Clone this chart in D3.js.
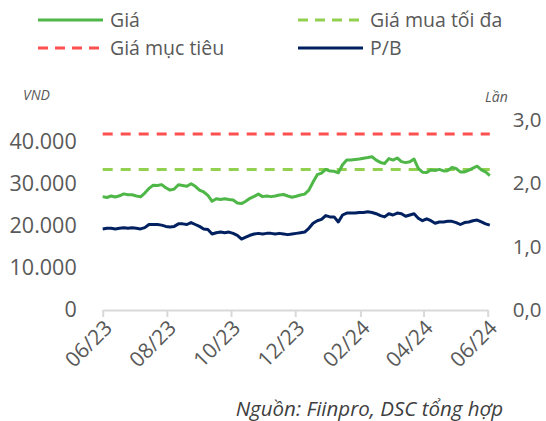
<!DOCTYPE html>
<html>
<head>
<meta charset="utf-8">
<script src="https://cdn.jsdelivr.net/npm/d3@7/dist/d3.min.js"></script>
<style>
  html, body { margin: 0; padding: 0; background: #fff; }
  svg { display: block; font-family: "Open Sans", "Noto Sans", sans-serif; }
</style>
</head>
<body>
<svg id="chart" width="546" height="421"></svg>
<script>
// ---- Data ----
const dates = [
  "2023-06-01","2023-06-05","2023-06-09","2023-06-13","2023-06-17","2023-06-21","2023-06-25","2023-06-29",
  "2023-07-03","2023-07-07","2023-07-11","2023-07-15","2023-07-19","2023-07-23","2023-07-27","2023-07-31",
  "2023-08-04","2023-08-08","2023-08-12","2023-08-16","2023-08-20","2023-08-24","2023-08-28","2023-09-01",
  "2023-09-05","2023-09-09","2023-09-13","2023-09-17","2023-09-21","2023-09-25","2023-09-29","2023-10-03",
  "2023-10-07","2023-10-11","2023-10-15","2023-10-19","2023-10-23","2023-10-27","2023-10-31","2023-11-04",
  "2023-11-08","2023-11-12","2023-11-16","2023-11-20","2023-11-24","2023-11-28","2023-12-02","2023-12-06",
  "2023-12-10","2023-12-14","2023-12-18","2023-12-22","2023-12-26","2023-12-30","2024-01-03","2024-01-07",
  "2024-01-11","2024-01-15","2024-01-19","2024-01-23","2024-01-27","2024-01-31","2024-02-04","2024-02-08",
  "2024-02-12","2024-02-16","2024-02-20","2024-02-24","2024-02-28","2024-03-03","2024-03-07","2024-03-11",
  "2024-03-15","2024-03-19","2024-03-23","2024-03-27","2024-03-31","2024-04-04","2024-04-08","2024-04-12",
  "2024-04-16","2024-04-20","2024-04-24","2024-04-28","2024-05-02","2024-05-06","2024-05-10","2024-05-14",
  "2024-05-18","2024-05-22","2024-05-26","2024-05-30","2024-06-03"
];
const price = [
  26850,26650,27000,26750,27050,27500,27300,27300,
  27000,26800,27700,28800,29550,29500,29700,28950,
  28400,28650,29650,29500,29300,29900,29300,28400,
  27950,27150,25750,26350,26150,26350,26150,26050,
  25350,25200,25750,26450,26900,27450,26850,27000,
  26850,27000,27250,27350,27000,26700,26950,27250,
  27450,28400,30300,32050,32400,33300,32900,32850,
  32500,34400,35550,35550,35650,35750,35950,36100,
  36300,35500,34950,34700,35850,35500,36000,35150,
  34900,35100,35750,33550,32650,32550,33150,33050,
  33300,32950,33000,33750,33500,32700,32700,33100,
  33600,34050,33200,32700,31850
];
const pb = [
  1.28,1.29,1.29,1.28,1.29,1.30,1.29,1.30,
  1.29,1.28,1.30,1.35,1.35,1.35,1.34,1.32,
  1.31,1.32,1.36,1.36,1.35,1.38,1.35,1.32,
  1.28,1.27,1.20,1.22,1.23,1.22,1.23,1.21,
  1.18,1.12,1.15,1.18,1.20,1.21,1.20,1.21,
  1.21,1.20,1.21,1.20,1.19,1.20,1.21,1.22,
  1.23,1.29,1.37,1.41,1.43,1.49,1.47,1.47,
  1.39,1.50,1.53,1.53,1.53,1.54,1.54,1.55,
  1.54,1.52,1.49,1.47,1.52,1.50,1.53,1.52,
  1.48,1.50,1.52,1.45,1.41,1.44,1.41,1.37,
  1.39,1.39,1.40,1.40,1.38,1.35,1.38,1.39,
  1.41,1.42,1.39,1.36,1.34
];
const targetPrice = 41700;   // Giá mục tiêu
const maxBuyPrice = 33300;   // Giá mua tối đa
const leftTicks = [0, 10000, 20000, 30000, 40000];
const rightTicks = [0, 1, 2, 3];
const xTickDates = ["2023-06-01","2023-08-01","2023-10-01","2023-12-01","2024-02-01","2024-04-01","2024-06-01"];
const xTickLabels = ["06/23","08/23","10/23","12/23","02/24","04/24","06/24"];
const legendItems = [
  { label: "Giá", color: "#4eb748", dash: null, col: 0, row: 0 },
  { label: "Giá mua tối đa", color: "#92d050", dash: "10,7", col: 1, row: 0 },
  { label: "Giá mục tiêu", color: "#ff5050", dash: "10,7", col: 0, row: 1 },
  { label: "P/B", color: "#002060", dash: null, col: 1, row: 1 }
];

// ---- Chart ----
const parse = d3.timeParse("%Y-%m-%d");
const svg = d3.select("#chart");
const textColor = "#595959";
const plot = { left: 102.7, right: 487.7, top: 120, bottom: 310 };

const x = d3.scaleTime()
  .domain([parse("2023-06-01"), parse("2024-06-01")])
  .range([plot.left, plot.right]);
const yL = d3.scaleLinear().domain([0, 45000]).range([plot.bottom, plot.top]);
const yR = d3.scaleLinear().domain([0, 3]).range([plot.bottom, plot.top]);

const vn = d3.formatLocale({ decimal: ",", thousands: ".", grouping: [3], currency: ["", ""] });
const fmtL = vn.format(",.0f");
const fmtR = vn.format(".1f");

// Left axis
const gL = svg.append("g").attr("transform", `translate(${plot.left},0)`)
  .call(d3.axisLeft(yL).tickValues(leftTicks).tickFormat(fmtL).tickSize(0).tickPadding(26));
gL.select(".domain").remove();
gL.selectAll("text").attr("fill", textColor).style("font-size", "21.5px").style("font-family", '"Open Sans", sans-serif');

// Right axis
const gR = svg.append("g").attr("transform", `translate(${plot.right},0)`)
  .call(d3.axisRight(yR).tickValues(rightTicks).tickFormat(fmtR).tickSize(0).tickPadding(25));
gR.select(".domain").remove();
gR.selectAll("text").attr("fill", textColor).style("font-size", "20.5px").style("font-family", '"Open Sans", sans-serif');

// Bottom axis
const gX = svg.append("g").attr("transform", `translate(0,${plot.bottom})`)
  .call(d3.axisBottom(x).tickValues(xTickDates.map(parse))
    .tickFormat((d, i) => xTickLabels[i]).tickSizeInner(7).tickSizeOuter(0).tickPadding(6));
gX.select(".domain").attr("stroke", "#d9d9d9").attr("stroke-width", 2);
gX.selectAll(".tick line").attr("stroke", "#d9d9d9").attr("stroke-width", 2);
gX.selectAll("text")
  .attr("fill", textColor)
  .style("font-size", "21px").style("font-family", '"Open Sans", sans-serif')
  .attr("text-anchor", "end")
  .attr("dy", "0.35em")
  .attr("transform", "translate(5,14) rotate(-45)")
  .attr("x", 0).attr("y", 0);

// Reference lines
const xs = [parse(dates[0]), parse(dates[dates.length - 1])];
svg.append("line")
  .attr("x1", x(xs[0])).attr("x2", x(xs[1]))
  .attr("y1", yL(targetPrice)).attr("y2", yL(targetPrice))
  .attr("stroke", "#ff5050").attr("stroke-width", 3).attr("stroke-dasharray", "10,8");
svg.append("line")
  .attr("x1", x(xs[0])).attr("x2", x(xs[1]))
  .attr("y1", yL(maxBuyPrice)).attr("y2", yL(maxBuyPrice))
  .attr("stroke", "#92d050").attr("stroke-width", 3).attr("stroke-dasharray", "10,8");

// Series lines
const priceLine = d3.line().x((d, i) => x(parse(dates[i]))).y(d => yL(d));
const pbLine = d3.line().x((d, i) => x(parse(dates[i]))).y(d => yR(d));
svg.append("path").datum(price).attr("d", priceLine)
  .attr("fill", "none").attr("stroke", "#4eb748").attr("stroke-width", 3).attr("stroke-linejoin", "round");
svg.append("path").datum(pb).attr("d", pbLine)
  .attr("fill", "none").attr("stroke", "#002060").attr("stroke-width", 3).attr("stroke-linejoin", "round");

// Legend
const legX = [38, 298], legY = [20, 48];
legendItems.forEach(it => {
  const g = svg.append("g").attr("transform", `translate(${legX[it.col]},${legY[it.row]})`);
  g.append("line").attr("x1", 0).attr("x2", 65).attr("y1", 0).attr("y2", 0)
    .attr("stroke", it.color).attr("stroke-width", 3)
    .attr("stroke-dasharray", it.dash);
  g.append("text").attr("x", 72).attr("y", 0).attr("dy", "0.35em")
    .attr("fill", textColor).style("font-size", "19.5px").text(it.label);
});

// Unit labels
svg.append("text").attr("x", 23).attr("y", 100).attr("fill", textColor)
  .style("font-size", "14px").style("font-style", "italic").text("VND");
svg.append("text").attr("x", 485).attr("y", 102).attr("fill", textColor)
  .style("font-size", "14px").style("font-style", "italic").text("Lần");

// Source
svg.append("text").attr("x", 503).attr("y", 416).attr("text-anchor", "end").attr("fill", "#404040")
  .style("font-size", "20.5px").style("font-style", "italic").text("Nguồn: Fiinpro, DSC tổng hợp");
</script>
</body>
</html>
